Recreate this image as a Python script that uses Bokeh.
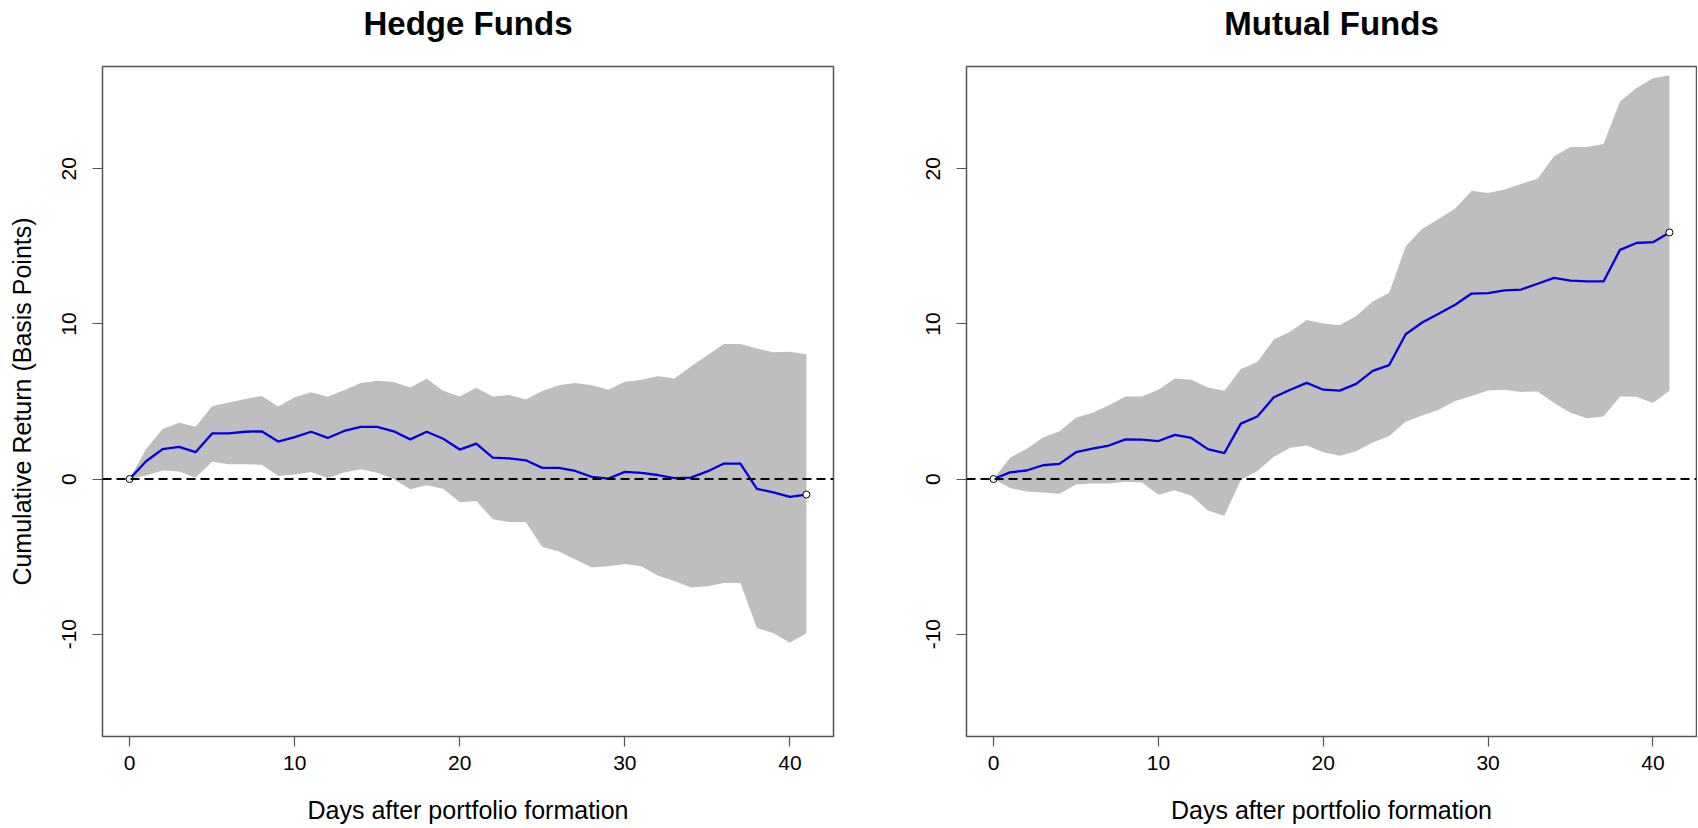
from bokeh.plotting import figure
from bokeh.layouts import row
from bokeh.models import Range1d, FixedTicker, Span, LinearAxis
from bokeh.embed import file_html
from bokeh.resources import INLINE

days = list(range(42))

hf_mean = [0, 1.15, 1.93, 2.07, 1.73, 2.94, 2.94, 3.05, 3.08, 2.42, 2.70, 3.05, 2.65, 3.10,
           3.37, 3.37, 3.08, 2.56, 3.05, 2.60, 1.90, 2.28, 1.38, 1.33, 1.21, 0.72, 0.72, 0.52,
           0.14, 0.03, 0.46, 0.40, 0.26, 0.06, 0.09, 0.49, 1.00, 1.00, -0.63, -0.86, -1.15, -1.00]
hf_upper = [0, 1.93, 3.23, 3.63, 3.37, 4.70, 4.93, 5.16, 5.36, 4.67, 5.27, 5.59, 5.30, 5.73,
            6.20, 6.34, 6.25, 5.90, 6.46, 5.70, 5.33, 5.88, 5.33, 5.42, 5.13, 5.68, 6.05, 6.20,
            6.05, 5.76, 6.28, 6.40, 6.63, 6.48, 7.26, 7.98, 8.70, 8.70, 8.41, 8.18, 8.21, 8.04]
hf_lower = [0, 0.23, 0.55, 0.49, 0.09, 1.12, 0.95, 0.95, 0.92, 0.20, 0.29, 0.46, 0.06, 0.43,
            0.63, 0.40, 0.00, -0.66, -0.40, -0.63, -1.50, -1.41, -2.60, -2.77, -2.77, -4.38,
            -4.67, -5.19, -5.70, -5.62, -5.48, -5.62, -6.22, -6.57, -7.00, -6.92, -6.71, -6.71,
            -9.60, -9.94, -10.55, -9.94]

mf_mean = [0, 0.43, 0.55, 0.89, 0.98, 1.73, 1.96, 2.16, 2.56, 2.54, 2.45, 2.85, 2.65, 1.93,
           1.67, 3.57, 4.03, 5.27, 5.76, 6.20, 5.76, 5.70, 6.14, 6.97, 7.35, 9.34, 10.09, 10.66,
           11.24, 11.96, 11.99, 12.16, 12.22, 12.59, 12.97, 12.80, 12.74, 12.74, 14.78, 15.22,
           15.27, 15.90]
mf_upper = [0, 1.38, 1.93, 2.68, 3.08, 3.95, 4.27, 4.76, 5.33, 5.33, 5.76, 6.48, 6.40, 5.90,
            5.70, 7.09, 7.55, 8.99, 9.51, 10.26, 10.03, 9.91, 10.52, 11.44, 12.02, 14.99, 16.14,
            16.77, 17.44, 18.59, 18.44, 18.67, 19.02, 19.37, 20.81, 21.41, 21.41, 21.61, 24.35,
            25.22, 25.85, 26.04]
mf_lower = [0, -0.58, -0.81, -0.86, -0.95, -0.35, -0.29, -0.29, -0.17, -0.23, -1.01, -0.72,
            -1.07, -2.02, -2.36, -0.06, 0.52, 1.44, 2.02, 2.16, 1.73, 1.50, 1.79, 2.36, 2.77,
            3.69, 4.09, 4.47, 5.04, 5.36, 5.71, 5.76, 5.62, 5.65, 4.90, 4.27, 3.92, 4.03, 5.33,
            5.30, 4.90, 5.70]

x_ticks = [0, 10, 20, 30, 40]
x_tick_labels = ["0", "10", "20", "30", "40"]
y_ticks = [-10, 0, 10, 20]
y_tick_labels = ["-10", "0", "10", "20"]
titles = ["Hedge Funds", "Mutual Funds"]
x_label = "Days after portfolio formation"
y_label = "Cumulative Return (Basis Points)"

FONT = "Liberation Sans"
FRAME = "#555555"
HEIGHT = 826
BORDER_TOP = 66
BORDER_BOTTOM = 90


def make_panel(title, mean, upper, lower, width, border_left, border_right, ylabel):
    p = figure(width=width, height=HEIGHT, output_backend="svg", toolbar_location=None,
               x_range=Range1d(-1.64, 42.64), y_range=Range1d(-16.6, 26.6),
               min_border_left=border_left, min_border_right=border_right,
               min_border_top=BORDER_TOP, min_border_bottom=BORDER_BOTTOM)
    p.outline_line_color = FRAME
    p.outline_line_width = 1.5
    p.grid.visible = False
    p.background_fill_color = "white"
    p.border_fill_color = "white"

    p.varea(x=days, y1=lower, y2=upper, fill_color="#BEBEBE")
    p.line(days, mean, line_color="#0000E6", line_width=2.3)
    p.scatter([days[0], days[-1]], [mean[0], mean[-1]], size=7, marker="circle",
              fill_color="white", line_color="black", line_width=1)
    p.add_layout(Span(location=0, dimension="width", line_color="black",
                      line_width=2, line_dash="9 5"))

    xa = p.below[0]
    ya = p.left[0]
    for ax in (xa, ya):
        ax.axis_line_color = None
        ax.major_tick_line_color = FRAME
        ax.major_tick_line_width = 1.2
        ax.major_tick_out = 10
        ax.major_tick_in = 0
        ax.minor_tick_line_color = None
        ax.major_label_text_font = FONT
        ax.major_label_text_font_size = "21px"
        ax.major_label_text_color = "black"
        ax.axis_label_text_font = FONT
        ax.axis_label_text_font_size = "25px"
        ax.axis_label_text_font_style = "normal"
        ax.axis_label_text_color = "black"
    xa.ticker = FixedTicker(ticks=x_ticks)
    xa.major_label_overrides = dict(zip(x_ticks, x_tick_labels))
    ya.ticker = FixedTicker(ticks=y_ticks)
    ya.major_label_overrides = dict(zip(y_ticks, y_tick_labels))
    ya.major_label_orientation = "vertical"
    xa.major_label_standoff = 9
    ya.major_label_standoff = 16
    xa.axis_label = x_label
    xa.axis_label_standoff = 23
    if ylabel:
        ya.axis_label = ylabel
        ya.axis_label_standoff = 24

    # panel title, drawn as the label of a bare axis above the frame
    top = LinearAxis(ticker=FixedTicker(ticks=[]), axis_label=title)
    top.axis_line_color = None
    top.major_tick_line_color = None
    top.minor_tick_line_color = None
    top.major_tick_out = 0
    top.minor_tick_out = 0
    top.major_label_standoff = 0
    top.major_label_text_font_size = "1px"
    top.axis_label_text_font = FONT
    top.axis_label_text_font_style = "bold"
    top.axis_label_text_font_size = "33px"
    top.axis_label_text_color = "black"
    top.axis_label_standoff = 25
    p.add_layout(top, "above")
    return p


p1 = make_panel(titles[0], hf_mean, hf_upper, hf_lower, 850, 102, 17, y_label)
p2 = make_panel(titles[1], mf_mean, mf_upper, mf_lower, 847, 116, 1, None)

layout = row(p1, p2)
open("out.html", "w").write(file_html(layout, INLINE))
